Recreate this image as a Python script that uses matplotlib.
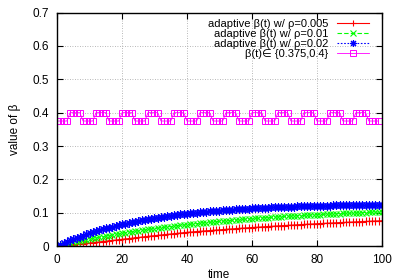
import matplotlib
matplotlib.use('Agg')
import matplotlib.pyplot as plt
from matplotlib.ticker import FuncFormatter

plt.rcParams['font.family'] = ['Liberation Sans', 'DejaVu Sans']

# time steps
time = list(range(101))
time_fixed = list(range(100))

# adaptive beta, rho = 0.005
beta_005 = [
    0.0000, 0.0008, 0.0016, 0.0025, 0.0034, 0.0043, 0.0053, 0.0063, 0.0073, 0.0083,
    0.0094, 0.0105, 0.0116, 0.0127, 0.0138, 0.0149, 0.0160, 0.0171, 0.0182, 0.0193,
    0.0204, 0.0215, 0.0226, 0.0237, 0.0248, 0.0259, 0.0270, 0.0281, 0.0292, 0.0303,
    0.0314, 0.0324, 0.0334, 0.0344, 0.0354, 0.0364, 0.0373, 0.0383, 0.0393, 0.0403,
    0.0413, 0.0421, 0.0429, 0.0437, 0.0445, 0.0452, 0.0460, 0.0467, 0.0475, 0.0482,
    0.0489, 0.0496, 0.0504, 0.0511, 0.0517, 0.0524, 0.0531, 0.0538, 0.0544, 0.0551,
    0.0557, 0.0563, 0.0570, 0.0576, 0.0582, 0.0588, 0.0594, 0.0600, 0.0606, 0.0612,
    0.0617, 0.0623, 0.0629, 0.0634, 0.0640, 0.0645, 0.0650, 0.0656, 0.0661, 0.0666,
    0.0671, 0.0676, 0.0681, 0.0686, 0.0691, 0.0695, 0.0700, 0.0705, 0.0709, 0.0714,
    0.0719, 0.0723, 0.0727, 0.0732, 0.0736, 0.0740, 0.0745, 0.0749, 0.0753, 0.0757,
    0.0761,
]

# adaptive beta, rho = 0.01
beta_01 = [
    0.0000, 0.0023, 0.0045, 0.0067, 0.0089, 0.0110, 0.0131, 0.0151, 0.0171, 0.0191,
    0.0210, 0.0229, 0.0247, 0.0265, 0.0283, 0.0301, 0.0318, 0.0335, 0.0351, 0.0367,
    0.0383, 0.0399, 0.0414, 0.0429, 0.0444, 0.0458, 0.0472, 0.0486, 0.0500, 0.0513,
    0.0526, 0.0539, 0.0552, 0.0564, 0.0576, 0.0588, 0.0600, 0.0611, 0.0622, 0.0633,
    0.0644, 0.0655, 0.0665, 0.0675, 0.0685, 0.0695, 0.0705, 0.0714, 0.0723, 0.0732,
    0.0741, 0.0750, 0.0759, 0.0767, 0.0775, 0.0783, 0.0791, 0.0799, 0.0807, 0.0814,
    0.0821, 0.0829, 0.0836, 0.0843, 0.0850, 0.0856, 0.0863, 0.0869, 0.0876, 0.0882,
    0.0888, 0.0894, 0.0900, 0.0905, 0.0911, 0.0916, 0.0922, 0.0927, 0.0932, 0.0937,
    0.0942, 0.0947, 0.0952, 0.0957, 0.0961, 0.0966, 0.0970, 0.0975, 0.0979, 0.0983,
    0.0987, 0.0992, 0.0995, 0.0999, 0.1003, 0.1007, 0.1011, 0.1014, 0.1018, 0.1021,
    0.1025,
]

# adaptive beta, rho = 0.02
beta_02 = [
    0.0000, 0.0045, 0.0088, 0.0130, 0.0170, 0.0209, 0.0247, 0.0283, 0.0318, 0.0352,
    0.0384, 0.0416, 0.0446, 0.0475, 0.0504, 0.0531, 0.0557, 0.0583, 0.0607, 0.0631,
    0.0653, 0.0675, 0.0697, 0.0717, 0.0737, 0.0756, 0.0774, 0.0792, 0.0809, 0.0826,
    0.0842, 0.0857, 0.0872, 0.0886, 0.0900, 0.0913, 0.0926, 0.0939, 0.0951, 0.0962,
    0.0973, 0.0984, 0.0994, 0.1004, 0.1014, 0.1023, 0.1032, 0.1041, 0.1049, 0.1058,
    0.1065, 0.1073, 0.1080, 0.1087, 0.1094, 0.1100, 0.1107, 0.1113, 0.1119, 0.1124,
    0.1130, 0.1135, 0.1140, 0.1145, 0.1150, 0.1154, 0.1159, 0.1163, 0.1167, 0.1171,
    0.1175, 0.1179, 0.1182, 0.1186, 0.1189, 0.1192, 0.1195, 0.1198, 0.1201, 0.1204,
    0.1206, 0.1209, 0.1212, 0.1214, 0.1216, 0.1219, 0.1221, 0.1223, 0.1225, 0.1227,
    0.1229, 0.1230, 0.1232, 0.1234, 0.1235, 0.1237, 0.1238, 0.1240, 0.1241, 0.1243,
    0.1244,
]

# fixed beta switching between two levels
beta_fixed = [
    0.375, 0.375, 0.375, 0.375, 0.4, 0.4, 0.4, 0.4,
    0.375, 0.375, 0.375, 0.375, 0.4, 0.4, 0.4, 0.4,
    0.375, 0.375, 0.375, 0.375, 0.4, 0.4, 0.4, 0.4,
    0.375, 0.375, 0.375, 0.375, 0.4, 0.4, 0.4, 0.4,
    0.375, 0.375, 0.375, 0.375, 0.4, 0.4, 0.4, 0.4,
    0.375, 0.375, 0.375, 0.375, 0.4, 0.4, 0.4, 0.4,
    0.375, 0.375, 0.375, 0.375, 0.4, 0.4, 0.4, 0.4,
    0.375, 0.375, 0.375, 0.375, 0.4, 0.4, 0.4, 0.4,
    0.375, 0.375, 0.375, 0.375, 0.4, 0.4, 0.4, 0.4,
    0.375, 0.375, 0.375, 0.375, 0.4, 0.4, 0.4, 0.4,
    0.375, 0.375, 0.375, 0.375, 0.4, 0.4, 0.4, 0.4,
    0.375, 0.375, 0.375, 0.375, 0.4, 0.4, 0.4, 0.4,
    0.375, 0.375, 0.375, 0.375,
]

labels = [
    'adaptive \u03b2(t) w/ \u03c1=0.005',
    'adaptive \u03b2(t) w/ \u03c1=0.01',
    'adaptive \u03b2(t) w/ \u03c1=0.02',
    '\u03b2(t)\u2208 {0.375,0.4}',
]

fig = plt.figure(figsize=(3.99, 2.8), dpi=100)
ax = fig.add_axes([0.143, 0.121, 0.814, 0.834])

ax.plot(time, beta_005, color='#ff0000', lw=0.8, ls='-', marker='+', ms=5.5, mew=0.8, label=labels[0])
ax.plot(time, beta_01, color='#00ff00', lw=0.8, ls=(0, (4, 2)), marker='x', ms=4.5, mew=0.8, label=labels[1])
ax.plot(time, beta_02, color='#0000ff', lw=0.8, ls=(0, (1.5, 1.5)), marker=(8, 2, 0), ms=6, mew=0.8, label=labels[2])
ax.plot(time_fixed, beta_fixed, color='#ff00ff', lw=0.6, ls='-', marker='s', ms=4, mew=0.7,
        mfc='none', label=labels[3])

ax.set_xlim(0, 100)
ax.set_ylim(0, 0.7)
ax.set_xticks([0, 20, 40, 60, 80, 100])
ax.set_yticks([0, 0.1, 0.2, 0.3, 0.4, 0.5, 0.6, 0.7])
ax.yaxis.set_major_formatter(FuncFormatter(lambda v, p: '0' if v == 0 else '%g' % v))
ax.tick_params(direction='in', top=True, right=True, length=4, width=0.8, labelsize=8.5, pad=6)
ax.grid(True, color='#a0a0a0', ls=(0, (1, 2)), lw=0.6)
for s in ax.spines.values():
    s.set_linewidth(1.0)

ax.set_xlabel('time', fontsize=8.5, labelpad=1.5)
ax.set_ylabel('value of \u03b2', fontsize=8.5, labelpad=8)

leg = ax.legend(loc='upper right', frameon=False, markerfirst=False, numpoints=1, fontsize=8,
                handlelength=2.9, handletextpad=0.8, labelspacing=0.0, borderaxespad=0.0,
                bbox_to_anchor=(0.975, 0.99))
for h in leg.legend_handles:
    h.set_markersize(5)

fig.savefig('out.png', dpi=100)
